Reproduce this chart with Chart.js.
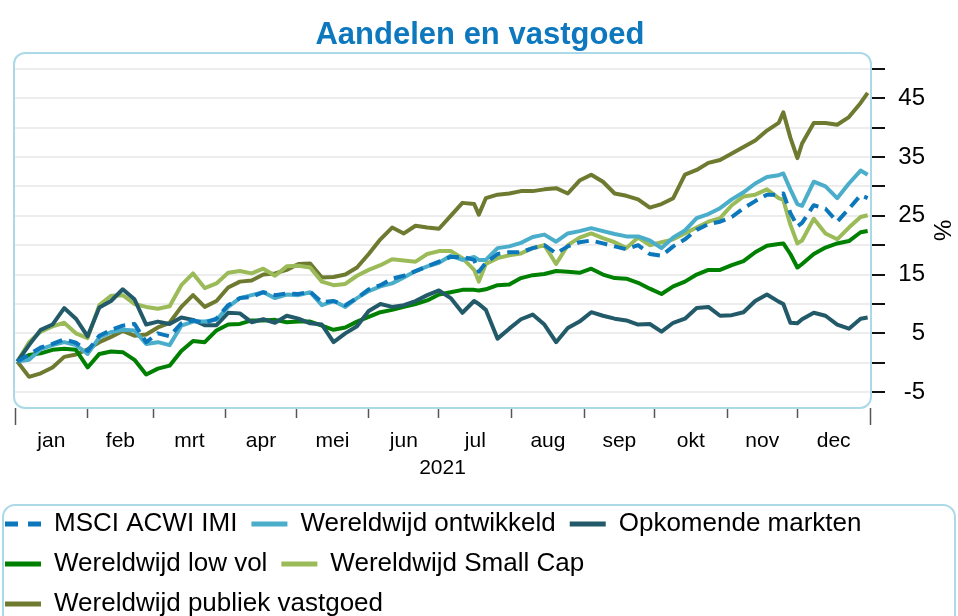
<!DOCTYPE html>
<html><head><meta charset="utf-8">
<script src="https://cdn.jsdelivr.net/npm/chart.js@4.4.0/dist/chart.umd.min.js"></script>
<style>html,body{margin:0;padding:0;background:#fff;}#wrap{width:958px;height:616px;}</style>
</head><body><div id="wrap"><canvas id="c" width="958" height="616"></canvas></div>
<script>
const days = [1,6,11,16,21,26,31,36,41,46,51,56,61,66,71,76,81,86,91,96,101,106,111,116,121,126,131,136,141,146,151,156,161,166,171,176,181,186,191,196,198,201,206,211,216,221,226,231,236,241,246,251,256,261,266,271,276,281,286,291,296,301,306,311,316,321,326,328,331,334,336,341,346,351,356,361,364];
const msciAcwiImi = [0.2,1.4,2.6,3.2,4.0,3.4,2.0,4.6,5.6,6.3, 6.6,3.5,5.0,4.5,6.7,7.2,6.8,7.5,9.8,11.0, 11.2,12.0,11.5,11.8,11.7,12.1,10.3,10.5,9.8,11.0, 12.5,13.2,14.3,14.8,15.6,16.4,17.2,18.0,18.0,17.5, 15.5, 17.0,18.5,18.8,18.8,19.5,20.0,18.6,19.8,20.5,20.8, 20.3,19.8,19.3,20.0,18.5,18.2,19.8,21.0,22.6,23.6, 24.0,24.8,26.3,27.5,28.6,28.6, 28.8, 25.5, 23.2, 23.8,26.8,26.2, 24.0,26.2,28.5,28.0];
const ontwikkeld = [0.2,0.5,2.3,3.0,3.5,3.0,1.5,4.3,5.2,5.6, 5.5,3.2,3.5,3.0,6.3,7.0,7.0,7.3,9.5,11.0, 11.5,12.0,11.0,11.6,11.5,12.0,9.8,10.5,9.5,11.0, 12.2,13.0,13.5,14.5,15.6,16.4,17.0,18.2,17.5,18.0, 17.5, 17.5,19.5,19.8,20.4,21.4,21.8,20.6,22.0,22.4,22.9, 22.4,21.9,21.5,21.5,20.8,19.5,21.3,22.5,24.6,25.3, 26.3,27.8,29.0,30.5,31.6,31.9, 32.2, 29.5, 27.0, 26.7,30.8,30.0, 28.0,30.5,32.7,32.0];
const opkomend = [0.2,3.0,5.6,6.5,9.3,7.5,4.5,9.4,10.5,12.5, 10.8,6.5,7.0,6.6,7.7,7.3,6.4,6.4,8.5,8.4, 6.9,7.4,6.8,8.0,7.5,6.7,6.5,3.5,5.0,6.2, 8.8,10.0,9.5,9.8,10.5,11.5,12.3,11.0,8.5,10.5, 10.0, 9.0,4.1,5.8,7.4,8.2,6.5,3.5,5.9,7.0,8.6, 8.0,7.5,7.2,6.5,6.6,5.3,6.8,7.5,9.3,9.5, 8.0,8.1,8.6,10.5,11.6,10.4, 10.0, 6.8, 6.7, 7.4,8.5,8.0, 6.5,5.8,7.5,7.7];
const lowVol = [0.2,1.3,1.6,2.2,2.4,2.2,-0.8,1.5,1.9,1.8, 0.5,-2.0,-1.0,-0.5,2.0,3.7,3.5,5.5,6.5,6.6, 7.2,7.2,7.3,6.9,7.0,7.0,6.3,5.6,6.0,7.0, 7.8,8.6,9.0,9.5,10.0,10.6,11.6,12.0,12.4,12.4, 12.3, 12.5,13.2,13.3,14.4,14.9,15.1,15.6,15.5,15.3,16.0, 15.0,14.4,14.3,13.6,12.6,11.7,13.0,13.8,15.0,15.8, 15.8,16.6,17.3,18.8,19.9,20.2, 20.3, 18.5, 16.2, 16.8,18.5,19.6, 20.3,20.7,22.2,22.4];
const smallCap = [0.2,3.5,5.3,6.2,6.8,5.0,4.2,9.8,11.4,11.5, 10.0,9.5,9.2,9.6,13.2,15.2,12.7,13.5,15.3,15.6, 15.2,16.0,14.8,16.4,16.5,16.2,13.8,13.2,13.4,14.8, 15.8,16.6,17.6,17.4,17.2,18.5,19.0,19.0,17.8,15.8, 13.8, 16.8,17.8,18.3,18.6,19.5,20.0,16.8,20.0,21.3,22.0, 21.2,20.5,19.5,21.3,20.0,20.5,21.0,22.0,23.0,24.0, 24.6,26.8,28.3,28.6,29.5,28.0, 27.7, 23.5, 20.3, 20.8,24.5,22.0, 21.0,23.0,24.8,25.1];
const vastgoed = [0.2,-2.4,-1.8,-0.8,1.0,1.4,2.3,3.5,4.4,5.4, 4.6,4.8,6.0,6.8,9.5,11.5,9.5,10.5,12.8,13.8, 14.0,15.0,15.2,15.8,16.8,16.9,14.5,14.6,15.0,16.2, 18.5,21.0,23.0,22.0,23.3,23.0,22.8,25.0,27.2,27.0, 25.2, 28.0,28.6,28.8,29.2,29.2,29.5,29.7,28.8,31.0,32.0, 30.8,28.8,28.4,27.8,26.4,27.0,28.0,32.0,32.8,34.0, 34.5,35.6,36.7,37.8,39.5,40.8, 42.6, 38.3, 34.8, 37.3,40.8,40.8, 40.5,41.8,44.2,45.9];

const seriesNames = ['MSCI ACWI IMI','Wereldwijd ontwikkeld','Opkomende markten','Wereldwijd low vol','Wereldwijd Small Cap','Wereldwijd publiek vastgoed'];
const yTickValues = [-5,0,5,10,15,20,25,30,35,40,45,50];
const yTickLabels = ['-5','','5','','15','','25','','35','','45',''];
const monthStarts = [0,31,59,90,120,151,181,212,243,273,304,334,365];
const monthNames = ['jan','feb','mrt','apr','mei','jun','jul','aug','sep','okt','nov','dec'];
const yearLabel = '2021';

const monthMids = monthNames.map((m, i) => (monthStarts[i] + monthStarts[i + 1]) / 2);
const monthTickValues = [monthStarts[0], ...monthMids, monthStarts[monthStarts.length - 1]];
const monthTickLabels = ['', ...monthNames, ''];

Chart.defaults.font.family = "'Liberation Sans', Arial, sans-serif";
Chart.defaults.color = '#000';

function rr(ctx, x, y, w, h, r) {
  ctx.beginPath();
  ctx.moveTo(x + r, y);
  ctx.arcTo(x + w, y, x + w, y + h, r);
  ctx.arcTo(x + w, y + h, x, y + h, r);
  ctx.arcTo(x, y + h, x, y, r);
  ctx.arcTo(x, y, x + w, y, r);
  ctx.closePath();
}

const frames = {
  id: 'frames',
  afterLayout(chart) {
    const lg = chart.legend;
    if (lg) { lg.left -= 24; lg.right -= 24; lg.top += 11; lg.bottom += 11; }
    const tb = chart.titleBlock;
    if (tb) { tb.left += 10; tb.right += 10; }
  },
  afterDraw(chart) {
    const {ctx, chartArea: a} = chart;
    ctx.save();
    ctx.strokeStyle = '#acd9e7';
    ctx.lineWidth = 2;
    rr(ctx, a.left - 1, a.top, a.right - a.left + 2, a.bottom - a.top, 11);
    ctx.stroke();
    const lg = chart.legend;
    rr(ctx, 3, lg.top + 8, 952, 150, 12);
    ctx.stroke();
    ctx.restore();
  }
};

const colors = ['#0c77bb', '#4aadca', '#235a69', '#008000', '#9bbb59', '#6e7a30'];
const values = [msciAcwiImi, ontwikkeld, opkomend, lowVol, smallCap, vastgoed];

new Chart(document.getElementById('c'), {
  type: 'line',
  data: {
    labels: days,
    datasets: values.map((v, i) => ({
      label: seriesNames[i],
      data: v,
      borderColor: colors[i],
      backgroundColor: colors[i],
      borderWidth: 4,
      borderDash: i === 0 ? [12, 7] : [],
      pointRadius: 0,
      tension: 0,
      fill: false,
      borderJoinStyle: 'round',
      xAxisID: 'x',
      yAxisID: 'y'
    }))
  },
  options: {
    responsive: false,
    animation: false,
    devicePixelRatio: 1,
    layout: {padding: {left: 15, right: 33, top: 0, bottom: 0}},
    plugins: {
      tooltip: {enabled: false},
      title: {
        display: true, text: 'Aandelen en vastgoed', color: '#0d78be',
        font: {size: 31, weight: 'bold'}, padding: {top: 17, bottom: -1.2}
      },
      legend: {
        position: 'bottom', align: 'start',
        labels: {
          font: {size: 26}, color: '#000', padding: 14,
          usePointStyle: true, pointStyle: 'line', pointStyleWidth: 36,
          generateLabels: (chart) => Chart.defaults.plugins.legend.labels.generateLabels(chart).map((l, i) => Object.assign(l, {lineWidth: 5, lineDash: i === 0 ? [13, 10] : []}))
        }
      }
    },
    scales: {
      x: {
        type: 'linear', position: 'bottom', min: 0, max: 365, weight: 1,
        afterBuildTicks: s => { s.ticks = monthStarts.map(v => ({value: v})); },
        ticks: {display: false, autoSkip: false},
        grid: {display: true, drawOnChartArea: false, drawTicks: true, tickLength: 10, tickColor: '#555', tickWidth: 1.5},
        border: {display: false},
        afterFit: s => { s.height = 10; }
      },
      xm: {
        type: 'linear', position: 'bottom', min: 0, max: 365, weight: 2,
        afterBuildTicks: s => { s.ticks = monthTickValues.map(v => ({value: v})); },
        ticks: {autoSkip: false, maxRotation: 0, font: {size: 21}, color: '#000', padding: 4,
          callback: (v) => monthTickLabels[monthTickValues.indexOf(v)]},
        grid: {display: true, drawOnChartArea: false, drawTicks: true, tickLength: 7, tickWidth: 1.5,
          tickColor: c => (c.index === 0 || c.index === monthTickValues.length - 1) ? '#555' : 'rgba(0,0,0,0)'},
        border: {display: false},
        title: {display: true, text: yearLabel, font: {size: 21}, color: '#000', padding: {top: 0, bottom: 5}},
        afterFit: s => { s.height = 68; }
      },
      y: {
        type: 'linear', position: 'right', min: -7.7, max: 52.7,
        afterBuildTicks: s => { s.ticks = yTickValues.map(v => ({value: v})); },
        ticks: {autoSkip: false, font: {size: 24}, color: '#000', padding: 12, crossAlign: 'far',
          callback: (v) => yTickLabels[yTickValues.indexOf(v)]},
        grid: {color: '#ededed', lineWidth: 2, drawTicks: true, tickLength: 15, tickColor: '#111', tickWidth: 2},
        border: {display: false},
        title: {display: true, text: '%', font: {size: 24}, color: '#000', padding: {top: -30, bottom: 0}},
        afterFit: s => { s.width = 55; }
      }
    }
  },
  plugins: [frames]
});
</script>
</body></html>
